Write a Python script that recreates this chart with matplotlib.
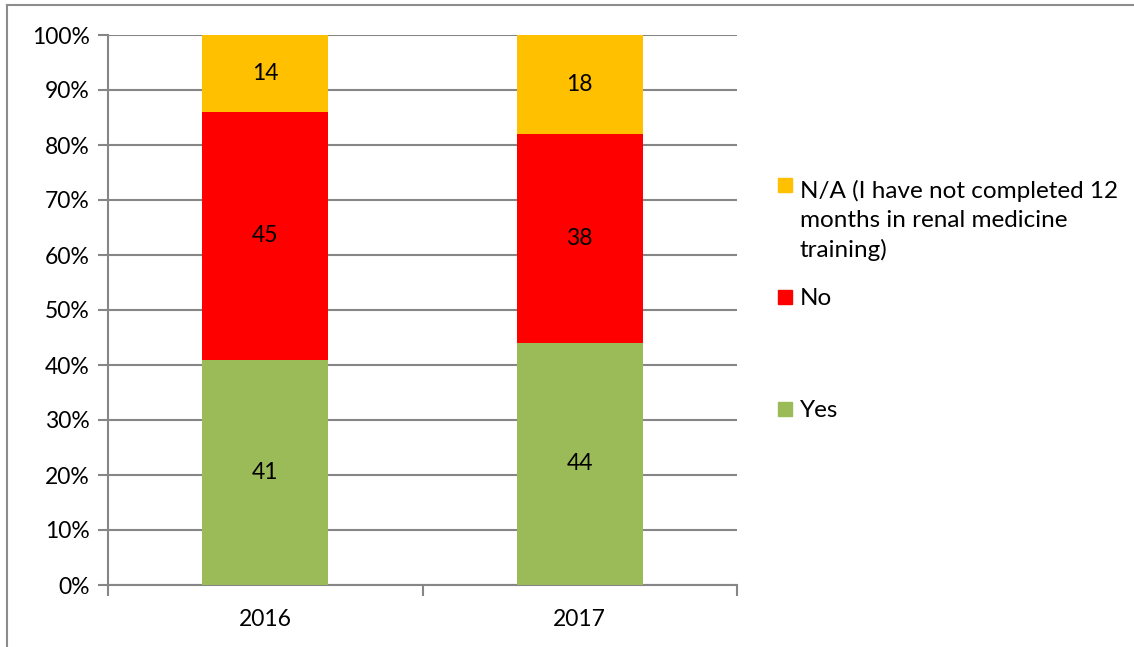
import numpy as np
import matplotlib.pyplot as plt
from matplotlib.patches import Rectangle
from matplotlib.lines import Line2D

years = ['2016', '2017']
yes = [41, 44]
no = [45, 38]
na = [14, 18]

series_names = ['Yes', 'No', 'N/A (I have not completed 12\nmonths in renal medicine\ntraining)']
series_vals = [yes, no, na]
series_cols = ['#9BBB59', '#FF0000', '#FFC000']

plt.rcParams['font.family'] = ['Lato', 'DejaVu Sans']
grid_col = '#868686'
fs = 16.5

fig = plt.figure(figsize=(11.34, 6.47), dpi=100)
ax = fig.add_axes([108/1134, 1-585/647, (737-108)/1134, (585-35)/647])

x = np.arange(len(years))
totals = np.sum(series_vals, axis=0)
bottom = np.zeros(len(years))
for name, vals, col in zip(series_names, series_vals, series_cols):
    pct = np.array(vals) / totals * 100
    ax.bar(x, pct, width=0.4, bottom=bottom, color=col, zorder=3)
    for xi, b, p, v in zip(x, bottom, pct, vals):
        ax.text(xi, b + p/2, str(v), ha='center', va='center', fontsize=fs, color='black', zorder=4)
    bottom += pct

ax.set_xlim(-0.5, 1.5)
ax.set_ylim(0, 100)
ax.set_yticks(np.arange(0, 101, 10))
ax.set_yticklabels([f'{v}%' for v in range(0, 101, 10)], fontsize=fs)
ax.yaxis.grid(True, color=grid_col, linewidth=1.5, zorder=0)
ax.tick_params(axis='y', length=7, width=1.5, color=grid_col, pad=6)

ax.set_xticks(x)
ax.set_xticklabels(years, fontsize=fs)
ax.tick_params(axis='x', which='major', length=0, pad=17)
ax.set_xticks([-0.5, 0.5, 1.5], minor=True)
ax.tick_params(axis='x', which='minor', length=8, width=1.5, color=grid_col)

for s in ['top', 'right']:
    ax.spines[s].set_visible(False)
for s in ['left', 'bottom']:
    ax.spines[s].set_color(grid_col)
    ax.spines[s].set_linewidth(1.5)

# legend, drawn by hand to match the spacing
leg_y = [409, 297, 185]
line_h = 32
for name, col, yy in zip(series_names, series_cols, leg_y):
    fig.patches.append(Rectangle((778/1134, 1-(yy+7)/647), 14/1134, 14/647,
                                 transform=fig.transFigure, color=col))
    n_extra = name.count('\n')
    # baseline of the last line
    fig.text(800/1134, 1-(yy+8+n_extra*line_h)/647, name, ha='left', va='baseline',
             fontsize=17.5, linespacing=1.45)

# outer chart border
fig.lines.append(Line2D([7/1134, 7/1134], [0, 1-5/647], transform=fig.transFigure, color='#8c8c8c', linewidth=1.5))
fig.lines.append(Line2D([7/1134, 1], [1-5/647, 1-5/647], transform=fig.transFigure, color='#8c8c8c', linewidth=1.5))

fig.savefig('out.png', dpi=100)
